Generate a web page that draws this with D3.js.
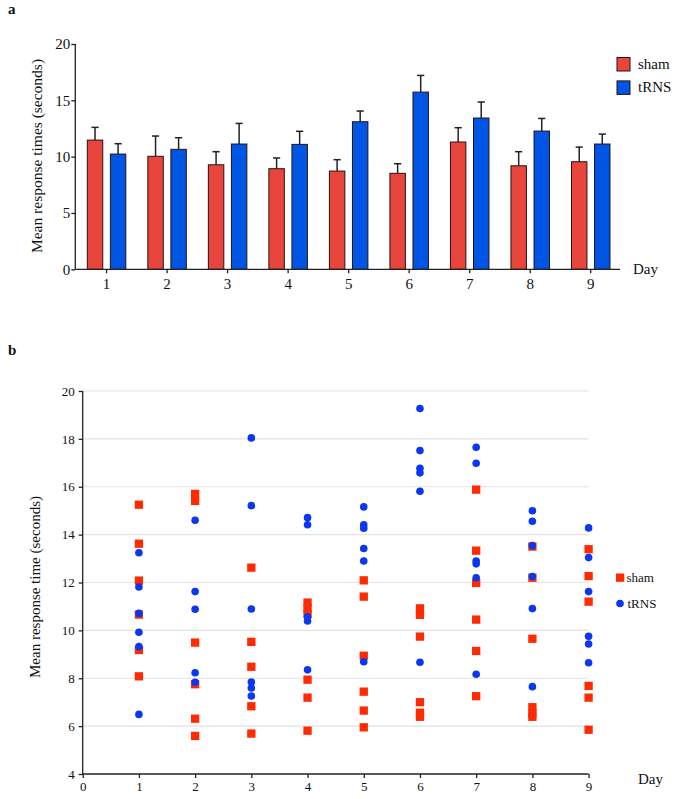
<!DOCTYPE html>
<html><head><meta charset="utf-8">
<script src="https://cdn.jsdelivr.net/npm/d3@7"></script>
<style>
html,body{margin:0;padding:0;background:#fff;}
svg text{font-family:"Liberation Serif","Times New Roman",serif;fill:#111;}
</style></head>
<body>
<svg id="chart" width="675" height="799"></svg>
<script>
// ---------- data ----------
const days = [1,2,3,4,5,6,7,8,9];
const seriesNames = ["sham","tRNS"];
const shamMean = [11.47,10.03,9.28,8.93,8.72,8.52,11.30,9.19,9.55];
const shamErr  = [1.13,1.80,1.16,0.95,1.01,0.85,1.27,1.25,1.30];
const trnsMean = [10.23,10.65,11.12,11.09,13.10,15.73,13.43,12.27,11.12];
const trnsErr  = [0.92,1.03,1.83,1.16,0.95,1.48,1.42,1.12,0.88];
const barTicks = [0,5,10,15,20];

const shamPoints = [
  [15.25,13.62,12.08,10.66,9.18,8.08],
  [15.70,15.41,9.49,7.75,6.31,5.59],
  [12.62,9.52,8.48,6.83,5.69],
  [11.16,10.92,10.69,7.94,7.19,5.81],
  [12.09,11.41,8.94,7.44,6.65,5.95],
  [10.92,10.65,9.74,7.00,6.56,6.39],
  [15.88,13.33,11.98,10.45,9.14,7.25],
  [13.50,12.20,9.65,6.79,6.54,6.39],
  [13.39,12.27,11.20,7.68,7.19,5.85]
];
const trnsPoints = [
  [13.24,11.81,10.71,9.92,9.32,6.49],
  [14.60,11.62,10.88,8.23,7.83],
  [18.04,15.21,10.89,7.84,7.59,7.26],
  [14.71,14.41,10.57,10.39,8.35],
  [15.16,14.41,14.27,13.42,12.90,8.69],
  [19.27,17.51,16.77,16.58,15.81,8.67],
  [17.65,16.98,12.90,12.78,12.20,8.17],
  [15.00,14.56,13.54,12.25,10.91,7.65],
  [14.28,13.04,11.62,9.75,9.43,8.65]
];
const scatterXTicks = [0,1,2,3,4,5,6,7,8,9];
const scatterYTicks = [4,6,8,10,12,14,16,18,20];

// ---------- styles ----------
const barRed = "#e8463d", barBlue = "#0056e4";
const ptRed = "#ff2a00", ptBlue = "#0b37f2";
const axisCol = "#222";

const svg = d3.select("#chart");

// ================= Panel a =================
const gA = svg.append("g");
gA.append("text").attr("x",8).attr("y",14).attr("font-size",15).attr("font-weight","bold").text("a");

const xA = d3.scaleBand().domain(days).range([75.3,620]).padding(0);
const xIn = d3.scaleBand().domain(seriesNames).range([-19.25,19.25]).paddingInner(0.33);
const yA = d3.scaleLinear().domain([0,20]).range([269.3,44]);

const barData = [];
days.forEach((d,i)=>{
  barData.push({day:d, s:"sham", v:shamMean[i], e:shamErr[i], c:barRed});
  barData.push({day:d, s:"tRNS", v:trnsMean[i], e:trnsErr[i], c:barBlue});
});
const cx = d => xA(d.day) + xA.bandwidth()/2 + 1 + xIn(d.s);

// error bars (upper only)
const eb = gA.append("g").attr("stroke",axisCol).attr("stroke-width",1.5);
barData.forEach(d=>{
  const mid = cx(d) + xIn.bandwidth()/2;
  eb.append("line").attr("x1",mid).attr("x2",mid).attr("y1",yA(d.v)).attr("y2",yA(d.v+d.e));
  eb.append("line").attr("x1",mid-3.6).attr("x2",mid+3.6).attr("y1",yA(d.v+d.e)).attr("y2",yA(d.v+d.e));
});
gA.append("g").selectAll("rect").data(barData).join("rect")
  .attr("x",d=>cx(d)).attr("width",xIn.bandwidth())
  .attr("y",d=>yA(d.v)).attr("height",d=>yA(0)-yA(d.v))
  .attr("fill",d=>d.c).attr("stroke","#2a1010").attr("stroke-width",1);

// axes
const yAxA = gA.append("g").attr("transform","translate(75.3,0)")
  .call(d3.axisLeft(yA).tickValues(barTicks).tickSize(4).tickPadding(1));
const xAxA = gA.append("g").attr("transform","translate(0,269.3)")
  .call(d3.axisBottom(xA).tickSize(4).tickPadding(5));
[yAxA,xAxA].forEach(a=>{
  a.select(".domain").attr("stroke",axisCol).attr("stroke-width",1.3);
  a.selectAll(".tick line").attr("stroke",axisCol).attr("stroke-width",1.3);
  a.selectAll(".tick text").attr("font-size",15).attr("font-family","Liberation Serif, Times New Roman, serif").attr("fill","#111");
});
xAxA.selectAll(".tick").attr("transform",d=>`translate(${xA(d)+xA.bandwidth()/2+1},0)`);
yAxA.select(".domain").attr("d","M0,269.3V44");
xAxA.select(".domain").attr("d","M75.3,0H620");

gA.append("text").attr("transform","translate(42,156) rotate(-90)")
  .attr("text-anchor","middle").attr("font-size",15.5).text("Mean response times (seconds)");
gA.append("text").attr("x",633).attr("y",274).attr("font-size",15).text("Day");

// legend a
const legA = gA.append("g");
seriesNames.forEach((s,i)=>{
  legA.append("rect").attr("x",617).attr("y",57.5+i*23.4).attr("width",13).attr("height",13.5)
    .attr("fill",i?barBlue:barRed).attr("stroke","#2a1010").attr("stroke-width",1);
  legA.append("text").attr("x",638).attr("y",69+i*23.4).attr("font-size",15).text(s);
});

// ================= Panel b =================
const gB = svg.append("g");
gB.append("text").attr("x",8).attr("y",355).attr("font-size",15).attr("font-weight","bold").text("b");

const xB = d3.scaleLinear().domain([0,9]).range([82.7,588.6]);
const yB = d3.scaleLinear().domain([4,20]).range([774,391]);

// gridlines
gB.append("g").selectAll("line").data(scatterYTicks.filter(t=>t>4)).join("line")
  .attr("x1",xB(0)).attr("x2",xB(9)).attr("y1",d=>yB(d)).attr("y2",d=>yB(d))
  .attr("stroke","#e2e2e2").attr("stroke-width",1.2);

const yAxB = gB.append("g").attr("transform",`translate(${xB(0)},0)`)
  .call(d3.axisLeft(yB).tickValues(scatterYTicks).tickSize(4).tickPadding(4));
const xAxB = gB.append("g").attr("transform",`translate(0,${yB(4)})`)
  .call(d3.axisBottom(xB).tickValues(scatterXTicks).tickSize(4).tickPadding(4));
[yAxB,xAxB].forEach(a=>{
  a.select(".domain").attr("stroke",axisCol).attr("stroke-width",1.3);
  a.selectAll(".tick line").attr("stroke",axisCol).attr("stroke-width",1.3);
  a.selectAll(".tick text").attr("font-size",13).attr("font-family","Liberation Serif, Times New Roman, serif").attr("fill","#111");
});
yAxB.select(".domain").attr("d",`M0,${yB(4)}V${yB(20)}`);
xAxB.select(".domain").attr("d",`M${xB(0)},0H${xB(9)}`);

const shamFlat = [], trnsFlat = [];
days.forEach((d,i)=>{
  shamPoints[i].forEach(v=>shamFlat.push({day:d,v}));
  trnsPoints[i].forEach(v=>trnsFlat.push({day:d,v}));
});
const sq = 8.3;
gB.append("g").selectAll("rect").data(shamFlat).join("rect")
  .attr("x",d=>xB(d.day)-sq/2).attr("y",d=>yB(d.v)-sq/2)
  .attr("width",sq).attr("height",sq).attr("fill",ptRed);
gB.append("g").selectAll("circle").data(trnsFlat).join("circle")
  .attr("cx",d=>xB(d.day)).attr("cy",d=>yB(d.v)).attr("r",3.8).attr("fill",ptBlue);

gB.append("text").attr("transform","translate(40,587) rotate(-90)")
  .attr("text-anchor","middle").attr("font-size",15).text("Mean response time (seconds)");
gB.append("text").attr("x",638).attr("y",784).attr("font-size",15).text("Day");

// legend b
gB.append("rect").attr("x",616).attr("y",573.5).attr("width",sq).attr("height",sq).attr("fill",ptRed);
gB.append("text").attr("x",626.5).attr("y",582).attr("font-size",13).text("sham");
gB.append("circle").attr("cx",620).attr("cy",603.5).attr("r",3.8).attr("fill",ptBlue);
gB.append("text").attr("x",627.5).attr("y",608).attr("font-size",13).text("tRNS");
</script>
</body></html>
